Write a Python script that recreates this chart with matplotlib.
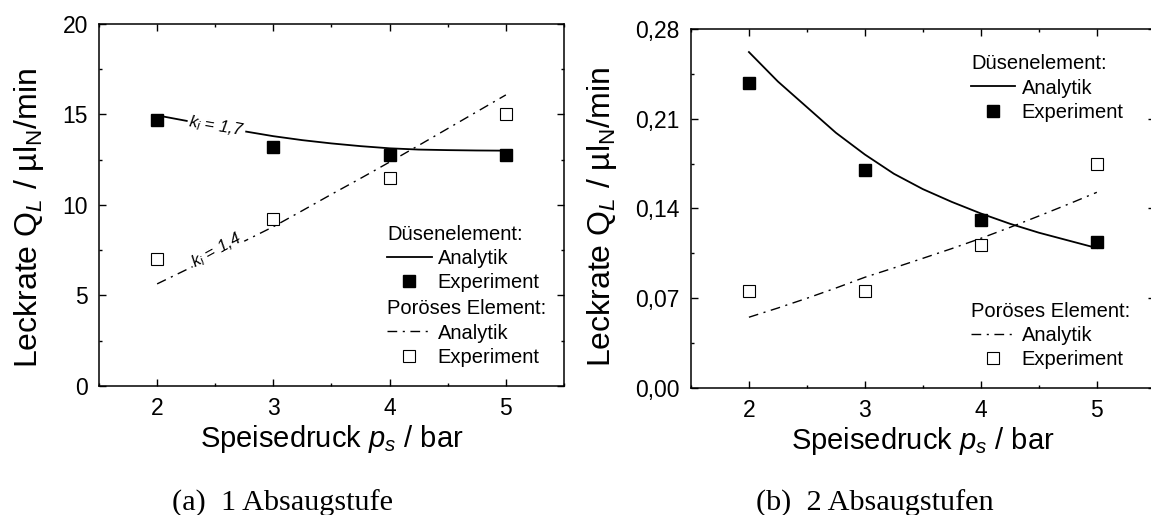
import matplotlib
matplotlib.use("Agg")
import matplotlib.pyplot as plt
from matplotlib.ticker import MultipleLocator, FuncFormatter

plt.rcParams['font.family'] = ['Liberation Sans', 'DejaVu Sans']
plt.rcParams['mathtext.fontset'] = 'custom'
plt.rcParams['mathtext.rm'] = 'Liberation Sans'
plt.rcParams['mathtext.it'] = 'Liberation Sans:italic'
plt.rcParams['mathtext.bf'] = 'Liberation Sans:bold'

# Messpunkte
p_exp = [2, 3, 4, 5]
# Analytische Kurven
p_ana = [2, 2.25, 2.5, 2.75, 3, 3.25, 3.5, 3.75, 4, 4.25, 4.5, 4.75, 5]

# (a) 1 Absaugstufe
a_duese_exp = [14.7, 13.2, 12.75, 12.75]
a_poroes_exp = [7.0, 9.2, 11.5, 15.0]
a_duese_ana = [14.95, 14.65, 14.35, 14.07, 13.8, 13.58, 13.4, 13.25, 13.13,
               13.06, 13.03, 13.01, 13.0]
a_poroes_ana = [5.64, 6.42, 7.2, 8.0, 8.8, 9.69, 10.59, 11.47, 12.37, 13.29,
                14.22, 15.15, 16.08]

# (b) 2 Absaugstufen
b_duese_exp = [0.238, 0.170, 0.131, 0.1135]
b_poroes_exp = [0.0757, 0.0757, 0.111, 0.175]
b_duese_ana = [0.262, 0.239, 0.219, 0.199, 0.182, 0.167, 0.155, 0.145, 0.136,
               0.128, 0.121, 0.115, 0.109]
b_poroes_ana = [0.055, 0.0622, 0.0698, 0.0778, 0.0862, 0.0935, 0.101, 0.1086,
                0.1166, 0.1251, 0.134, 0.1431, 0.1525]

ki_labels = ['$k_i$ = 1,7', '$k_i$ = 1,4']

DASHDOT = (0, (7, 4, 1.5, 4))
FS_TICK = 16.5
FS_XLABEL = 21
FS_YLABEL = 23
FS_LEG = 14.5


def komma(v, nd):
    return f"{v:.{nd}f}".replace('.', ',')


def achse(ax, ylim, ymaj, nd, ylab_y):
    ax.set_xlim(1.5, 5.5)
    ax.set_ylim(*ylim)
    ax.xaxis.set_major_locator(MultipleLocator(1))
    ax.xaxis.set_minor_locator(MultipleLocator(0.5))
    ax.yaxis.set_major_locator(MultipleLocator(ymaj))
    ax.yaxis.set_minor_locator(MultipleLocator(ymaj / 2))
    ax.yaxis.set_major_formatter(FuncFormatter(lambda v, p: komma(v, nd)))
    ax.tick_params(which='both', direction='in', top=True, right=True,
                   width=1.0, labelsize=FS_TICK, pad=8)
    ax.tick_params(which='major', length=5)
    ax.tick_params(which='minor', length=2.5)
    for s in ax.spines.values():
        s.set_linewidth(1.1)
    ax.set_xlabel('Speisedruck $p_s$ / bar', fontsize=FS_XLABEL, labelpad=2)
    ax.set_ylabel(r'Leckrate Q$_{\mathit{L}}$ / µl$_{\mathrm{N}}$/min',
                  fontsize=FS_YLABEL, labelpad=12)
    ax.yaxis.label.set_y(ylab_y)


def zeichnen(ax, d_ana, d_exp, por_ana, por_exp):
    l1, = ax.plot(p_ana, d_ana, color='black', lw=1.3)
    m1, = ax.plot(p_exp, d_exp, 's', color='black', ms=8, ls='none')
    l2, = ax.plot(p_ana, por_ana, color='black', lw=1.0, ls=DASHDOT)
    m2, = ax.plot(p_exp, por_exp, 's', mfc='white', mec='black', mew=0.8,
                  ms=8, ls='none')
    return l1, m1, l2, m2


def legende(ax, handles, x, y1, y2):
    l1, m1, l2, m2 = handles
    kw = dict(frameon=False, fontsize=FS_LEG, title_fontsize=FS_LEG,
              alignment='left', borderpad=0, borderaxespad=0,
              handlelength=2.2, handletextpad=0.3, labelspacing=0.27,
              loc='upper left')
    leg1 = ax.legend([l1, m1], ['Analytik', 'Experiment'],
                     title='Düsenelement:', bbox_to_anchor=(x, y1), **kw)
    ax.add_artist(leg1)
    ax.legend([l2, m2], ['Analytik', 'Experiment'],
              title='Poröses Element:', bbox_to_anchor=(x, y2), **kw)


fig = plt.figure(figsize=(11.51, 5.15), dpi=100)
ax_a = fig.add_axes([0.086, 0.2505, 0.404, 0.703])
ax_b = fig.add_axes([0.6003, 0.2472, 0.403, 0.6965])

achse(ax_a, (0, 20), 5, 0, 0.464)
achse(ax_b, (0, 0.28), 0.07, 2, 0.475)

h_a = zeichnen(ax_a, a_duese_ana, a_duese_exp, a_poroes_ana, a_poroes_exp)
h_b = zeichnen(ax_b, b_duese_ana, b_duese_exp, b_poroes_ana, b_poroes_exp)

legende(ax_a, h_a, 0.62, 0.446, 0.24)
legende(ax_b, h_b, 0.604, 0.930, 0.24)

# Beschriftung der Kurven im linken Diagramm
bbox = dict(facecolor='white', edgecolor='none', pad=1)
ax_a.text(2.51, 14.33, ki_labels[0], fontsize=12, style='italic',
          rotation=-9.5, ha='center', va='center', bbox=bbox)
ax_a.text(2.51, 7.5, ki_labels[1], fontsize=12, style='italic',
          rotation=29, ha='center', va='center', bbox=bbox)

fig.text(283 / 1151, 1 - 503 / 515, '(a)  1 Absaugstufe', family='Liberation Serif',
         fontsize=21.8, ha='center', va='center')
fig.text(875 / 1151, 1 - 503 / 515, '(b)  2 Absaugstufen', family='Liberation Serif',
         fontsize=21.8, ha='center', va='center')

fig.savefig('out.png', dpi=100)
